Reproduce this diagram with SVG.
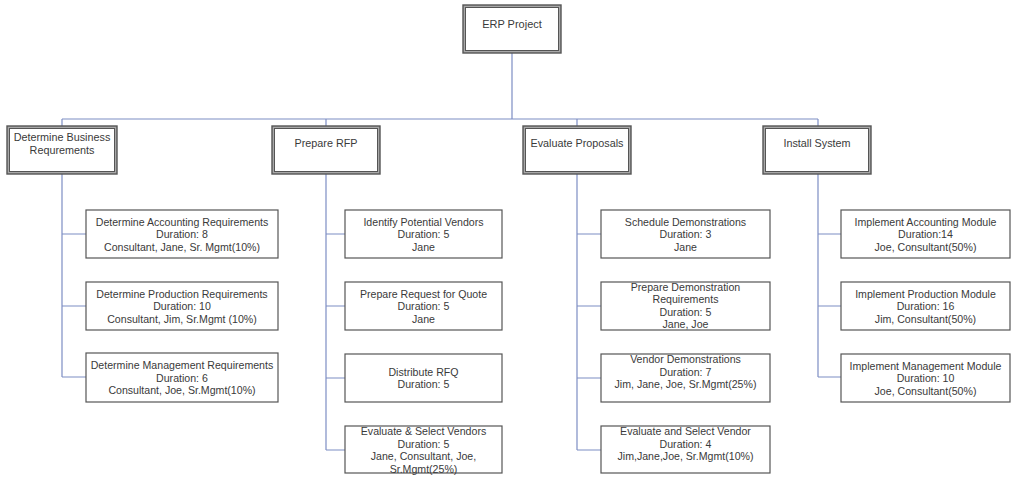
<svg xmlns="http://www.w3.org/2000/svg" width="1024" height="482" viewBox="0 0 1024 482">
<style>
text{font-family:"Liberation Sans",Arial,sans-serif;fill:#3a3a3a;text-anchor:middle}
.t{font-size:10.6px}
.h{font-size:10.8px}
.outer{fill:#a8a8a8;stroke:#555;stroke-width:1.4}
.inner{fill:#fff;stroke:#555;stroke-width:1}
.box{fill:#fff;stroke:#555;stroke-width:1.2}
.c{fill:none;stroke:#7d8ec4;stroke-width:1.2}
</style>
<rect width="1024" height="482" fill="#fff"/>
<g id="connectors">
<path class="c" d="M512 53V119M62 119H818M62 119V126M326 119V126M577 119V126M818 119V126"/>
<path class="c" d="M62 174V377M62 234H86M62 306H86M62 377H86"/>
<path class="c" d="M326 174V450M326 234H345M326 306H345M326 378H345M326 450H345"/>
<path class="c" d="M577 174V450M577 234H601M577 306H601M577 378H601M577 450H601"/>
<path class="c" d="M818 174V377M818 234H841M818 306H841M818 377H841"/>
</g>
<g id="erp-project">
<rect class="outer" x="463" y="5" width="98" height="48"/>
<rect class="inner" x="465.5" y="7.5" width="93" height="43"/>
<text style="font-size:11px" x="512" y="28">ERP Project</text>
</g>
<g id="determine-business">
<rect class="outer" x="7" y="126" width="110" height="48"/>
<rect class="inner" x="9.5" y="128.5" width="105" height="43"/>
<text class="h" x="62" y="141">Determine Business</text>
<text class="h" x="62" y="154">Requrements</text>
</g>
<g id="prepare-rfp">
<rect class="outer" x="272" y="126" width="108" height="48"/>
<rect class="inner" x="274.5" y="128.5" width="103" height="43"/>
<text class="h" x="326" y="147">Prepare RFP</text>
</g>
<g id="evaluate-proposals">
<rect class="outer" x="523" y="126" width="108" height="48"/>
<rect class="inner" x="525.5" y="128.5" width="103" height="43"/>
<text class="h" x="577" y="147">Evaluate Proposals</text>
</g>
<g id="install-system">
<rect class="outer" x="763" y="126" width="108" height="48"/>
<rect class="inner" x="765.5" y="128.5" width="103" height="43"/>
<text class="h" x="817" y="147">Install System</text>
</g>
<g id="acct-req">
<rect class="box" x="86" y="210" width="192" height="48"/>
<text class="t" x="182" y="225.5">Determine Accounting Requirements</text>
<text class="t" x="182" y="238">Duration: 8</text>
<text class="t" x="182" y="250.5">Consultant, Jane, Sr. Mgmt(10%)</text>
</g>
<g id="prod-req">
<rect class="box" x="86" y="282" width="192" height="48"/>
<text class="t" x="182" y="297.5">Determine Production Requirements</text>
<text class="t" x="182" y="310">Duration: 10</text>
<text class="t" x="182" y="322.5">Consultant, Jim, Sr.Mgmt (10%)</text>
</g>
<g id="mgmt-req">
<rect class="box" x="86" y="353" width="192" height="49"/>
<text class="t" x="182" y="369">Determine Management Requirements</text>
<text class="t" x="182" y="381.5">Duration: 6</text>
<text class="t" x="182" y="394">Consultant, Joe, Sr.Mgmt(10%)</text>
</g>
<g id="identify-vendors">
<rect class="box" x="345" y="210" width="157" height="48"/>
<text class="t" x="423.5" y="225.5">Identify Potential Vendors</text>
<text class="t" x="423.5" y="238">Duration: 5</text>
<text class="t" x="423.5" y="250.5">Jane</text>
</g>
<g id="request-quote">
<rect class="box" x="345" y="282" width="157" height="48"/>
<text class="t" x="423.5" y="297.5">Prepare Request for Quote</text>
<text class="t" x="423.5" y="310">Duration: 5</text>
<text class="t" x="423.5" y="322.5">Jane</text>
</g>
<g id="distribute-rfq">
<rect class="box" x="345" y="354" width="157" height="48"/>
<text class="t" x="423.5" y="375.5">Distribute RFQ</text>
<text class="t" x="423.5" y="388">Duration: 5</text>
</g>
<g id="select-vendors">
<rect class="box" x="345" y="426" width="157" height="47"/>
<text class="t" x="423.5" y="435">Evaluate &amp; Select Vendors</text>
<text class="t" x="423.5" y="447.5">Duration: 5</text>
<text class="t" x="423.5" y="460">Jane, Consultant, Joe,</text>
<text class="t" x="423.5" y="472.5">Sr.Mgmt(25%)</text>
</g>
<g id="schedule-demos">
<rect class="box" x="601" y="210" width="169" height="48"/>
<text class="t" x="685.5" y="225.5">Schedule Demonstrations</text>
<text class="t" x="685.5" y="238">Duration: 3</text>
<text class="t" x="685.5" y="250.5">Jane</text>
</g>
<g id="demo-req">
<rect class="box" x="601" y="282" width="169" height="48"/>
<text class="t" x="685.5" y="290.5">Prepare Demonstration</text>
<text class="t" x="685.5" y="303">Requirements</text>
<text class="t" x="685.5" y="315.5">Duration: 5</text>
<text class="t" x="685.5" y="328">Jane, Joe</text>
</g>
<g id="vendor-demos">
<rect class="box" x="601" y="354" width="169" height="48"/>
<text class="t" x="685.5" y="363">Vendor Demonstrations</text>
<text class="t" x="685.5" y="375.5">Duration: 7</text>
<text class="t" x="685.5" y="388">Jim, Jane, Joe, Sr.Mgmt(25%)</text>
</g>
<g id="select-vendor">
<rect class="box" x="601" y="426" width="169" height="47"/>
<text class="t" x="685.5" y="435">Evaluate and Select Vendor</text>
<text class="t" x="685.5" y="447.5">Duration: 4</text>
<text class="t" x="685.5" y="460">Jim,Jane,Joe, Sr.Mgmt(10%)</text>
</g>
<g id="acct-module">
<rect class="box" x="841" y="210" width="169" height="48"/>
<text class="t" x="925.5" y="225.5">Implement Accounting Module</text>
<text class="t" x="925.5" y="238">Duration:14</text>
<text class="t" x="925.5" y="250.5">Joe, Consultant(50%)</text>
</g>
<g id="prod-module">
<rect class="box" x="841" y="282" width="169" height="48"/>
<text class="t" x="925.5" y="297.5">Implement Production Module</text>
<text class="t" x="925.5" y="310">Duration: 16</text>
<text class="t" x="925.5" y="322.5">Jim, Consultant(50%)</text>
</g>
<g id="mgmt-module">
<rect class="box" x="841" y="354" width="169" height="48"/>
<text class="t" x="925.5" y="369.5">Implement Management Module</text>
<text class="t" x="925.5" y="382">Duration: 10</text>
<text class="t" x="925.5" y="394.5">Joe, Consultant(50%)</text>
</g>
</svg>
